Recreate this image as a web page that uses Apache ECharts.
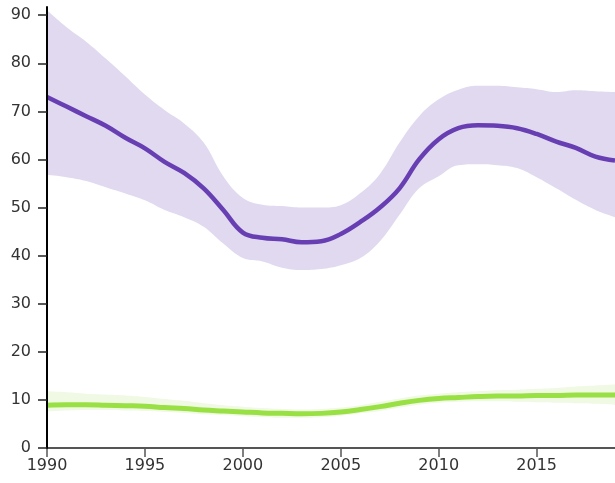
<!DOCTYPE html>
<html>
<head>
<meta charset="utf-8">
<script src="https://cdn.jsdelivr.net/npm/echarts@6/dist/echarts.min.js"></script>
<style>
html,body{margin:0;padding:0;background:#fff;}
#chart{width:615px;height:483px;}
</style>
</head>
<body>
<div id="chart"></div>
<script>
const years = [1990,1991,1992,1993,1994,1995,1996,1997,1998,1999,2000,2001,2002,2003,2004,2005,2006,2007,2008,2009,2010,2011,2012,2013,2014,2015,2016,2017,2018,2019];
const purpleMean  = [73,71,69,67,64.5,62.3,59.5,57.2,54,49.5,44.8,43.7,43.4,42.8,43,44.5,47,50,54,60,64.2,66.5,67.1,67,66.5,65.3,63.7,62.4,60.6,59.8];
const purpleLower = [56.8,56.3,55.5,54.2,52.9,51.5,49.5,48,46,42.5,39.5,38.8,37.5,37,37.2,38,39.5,43,48.5,54,56.5,58.8,59,58.8,58.2,56.3,54,51.6,49.5,48];
const purpleUpper = [91,87.5,84.5,81,77.3,73.5,70.3,67.5,63.5,56.5,52,50.6,50.3,50,50,50.5,53,57,63.5,69,72.5,74.5,75.3,75.3,75,74.6,74,74.4,74.2,74];
const greenMean  = [8.9,9,9,8.9,8.8,8.7,8.4,8.2,7.9,7.7,7.5,7.3,7.2,7.1,7.2,7.5,8.0,8.6,9.3,9.9,10.3,10.5,10.7,10.8,10.8,10.9,10.9,11.0,11.0,11.0];
const greenLower = [7.6,7.8,7.9,7.9,7.8,7.7,7.5,7.3,7.0,6.8,6.6,6.4,6.3,6.3,6.4,6.7,7.2,7.7,8.4,9.0,9.4,9.6,9.7,9.7,9.6,9.5,9.4,9.3,9.2,9.0];
const greenUpper = [11.8,11.6,11.3,11.1,10.9,10.6,10.2,9.8,9.3,8.9,8.6,8.3,8.1,8.0,8.1,8.4,8.9,9.6,10.3,10.9,11.3,11.6,11.8,12.0,12.1,12.3,12.5,12.8,13.0,13.2];
const yTicks = [0,10,20,30,40,50,60,70,80,90];
const xTicks = [1990,1995,2000,2005,2010,2015];

const diff = (up, lo) => up.map((u, i) => +(u - lo[i]).toFixed(3));

const chart = echarts.init(document.getElementById('chart'), null, {renderer: 'canvas'});
const font = {fontFamily: 'DejaVu Sans', fontSize: 16, color: '#333'};

function band(name, lo, up, color) {
  return [
    {type: 'line', name: name + 'Lo', stack: name, data: lo, smooth: 0.4, symbol: 'none',
     lineStyle: {opacity: 0}, silent: true, z: 1},
    {type: 'line', name: name + 'Band', stack: name, data: diff(up, lo), smooth: 0.4, symbol: 'none',
     lineStyle: {opacity: 0}, areaStyle: {color: color, opacity: 1}, silent: true, z: 1}
  ];
}

chart.setOption({
  animation: false,
  grid: {left: 47, top: 7, width: 571, height: 441, containLabel: false},
  xAxis: {
    type: 'category', data: years.map(String), boundaryGap: false, z: 10,
    axisLine: {show: true, onZero: false, lineStyle: {color: '#555', width: 2}},
    axisTick: {show: true, length: 9, interval: (i, v) => xTicks.includes(+v), lineStyle: {color: '#555', width: 1.5}},
    axisLabel: Object.assign({margin: 10, interval: (i, v) => xTicks.includes(+v)}, font),
    splitLine: {show: false}
  },
  yAxis: {
    type: 'value', min: 0, max: 91.7, interval: 10, z: 11,
    axisLine: {show: true, lineStyle: {color: '#000', width: 2}},
    axisTick: {show: true, length: 9, lineStyle: {color: '#222', width: 1.5}},
    axisLabel: Object.assign({margin: 16, showMaxLabel: false, formatter: v => yTicks.includes(v) ? String(v) : ''}, font),
    splitLine: {show: false}
  },
  series: [
    ...band('p', purpleLower, purpleUpper, '#e1d9ef'),
    ...band('g', greenLower, greenUpper, '#f0f9e3'),
    {type: 'line', name: 'purple', data: purpleMean, smooth: 0.4, symbol: 'none',
     lineStyle: {color: '#673fb3', width: 4.5}, z: 3},
    {type: 'line', name: 'green', data: greenMean, smooth: 0.4, symbol: 'none',
     lineStyle: {color: '#98e043', width: 5}, z: 3}
  ]
});
</script>
</body>
</html>
